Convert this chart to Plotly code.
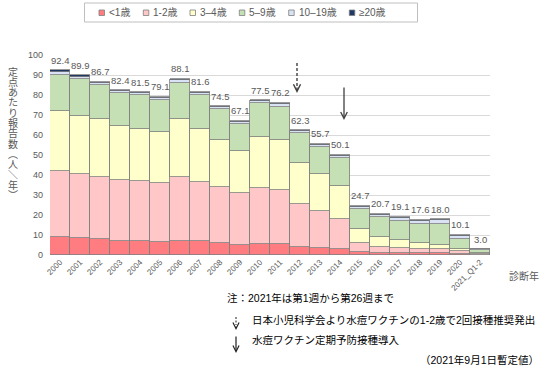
import plotly.graph_objects as go

years = ["2000", "2001", "2002", "2003", "2004", "2005", "2006", "2007", "2008", "2009",
         "2010", "2011", "2012", "2013", "2014", "2015", "2016", "2017", "2018", "2019",
         "2020", "2021_Q1-2"]
age_lt1 = [8.8, 8.3, 7.8, 7.2, 6.8, 6.5, 6.8, 6.8, 5.8, 5.2, 5.5, 5.5, 4.2, 3.5, 2.8, 1.5, 1.2, 1.2, 1.0, 0.9, 0.6, 0.2]
age_1_2 = [33.0, 32.2, 31.4, 30.3, 30.0, 29.3, 32.0, 29.7, 28.0, 25.6, 28.0, 27.0, 21.3, 18.7, 15.0, 4.7, 2.6, 2.3, 2.2, 1.9, 1.6, 0.4]
age_3_4 = [30.0, 29.0, 28.6, 27.0, 26.4, 25.7, 29.0, 26.3, 23.7, 21.4, 25.3, 25.0, 20.3, 18.3, 16.5, 6.6, 5.4, 4.0, 2.6, 2.4, 1.0, 0.3]
age_5_9 = [18.4, 18.3, 17.0, 16.3, 16.6, 16.0, 18.4, 17.0, 15.3, 13.3, 17.0, 16.7, 15.0, 13.7, 14.2, 10.0, 10.0, 9.7, 9.7, 10.3, 5.0, 1.6]
age_10_19 = [1.4, 1.3, 1.2, 1.0, 1.1, 1.0, 1.2, 1.1, 1.1, 1.0, 1.1, 1.3, 1.0, 1.0, 1.0, 1.3, 1.0, 1.3, 1.6, 2.0, 1.4, 0.3]
age_ge20 = [0.8, 0.8, 0.7, 0.6, 0.6, 0.6, 0.7, 0.7, 0.6, 0.6, 0.6, 0.7, 0.5, 0.5, 0.6, 0.6, 0.5, 0.6, 0.5, 0.5, 0.5, 0.2]
totals = [92.4, 89.9, 86.7, 82.4, 81.5, 79.1, 88.1, 81.6, 74.5, 67.1, 77.5, 76.2, 62.3, 55.7, 50.1,
          24.7, 20.7, 19.1, 17.6, 18.0, 10.1, 3.0]

series_names = ["<1歳", "1-2歳", "3–4歳", "5–9歳", "10–19歳", "≥20歳"]
series_values = [age_lt1, age_1_2, age_3_4, age_5_9, age_10_19, age_ge20]
series_colors = ["#FF7C80", "#FFC7C7", "#FFFFCC", "#C5E0B4", "#DAE3F3", "#1F3864"]

FONT = "Liberation Sans, Arial, Noto Sans CJK JP, sans-serif"
CJK = "Noto Sans CJK JP, sans-serif"
GRAY = "#595959"

# plot area in pixels: x 50..490, y 55..255
L, R, T, B = 50, 60, 55, 120
PW, PH = 550 - L - R, 375 - T - B


def px(x):
    return (x - L) / PW


def py(y):
    return (375 - B - y) / PH


fig = go.Figure()
for name, vals, col in zip(series_names, series_values, series_colors):
    fig.add_trace(go.Bar(x=years, y=vals, name=name, marker_color=col,
                         marker_line_color="#7F7F7F", marker_line_width=0.8,
                         showlegend=False, hoverinfo="skip"))

annotations = []
# value labels (category index positions on the category axis)
for i, t in enumerate(totals):
    annotations.append(dict(x=i, y=t, xref="x", yref="y", text=f"{t:.1f}", showarrow=False,
                            yshift=10, font=dict(size=9.5, color=GRAY, family=FONT)))

shapes = []
# manual legend
shapes.append(dict(type="rect", xref="paper", yref="paper", x0=px(84.5), x1=px(417.5),
                   y0=py(22), y1=py(3), line=dict(color="#BFBFBF", width=1), fillcolor="white"))
leg_sq_x = [99, 143.3, 190, 239.3, 288.7, 349.3]
for sx, name, col in zip(leg_sq_x, series_names, series_colors):
    shapes.append(dict(type="rect", xref="paper", yref="paper", x0=px(sx), x1=px(sx + 5.5),
                       y0=py(15.5), y1=py(10), line=dict(color="#7F7F7F", width=0.8), fillcolor=col))
    annotations.append(dict(xref="paper", yref="paper", x=px(sx + 8), y=py(12.8), text=name,
                            showarrow=False, xanchor="left", yanchor="middle",
                            font=dict(size=10, color=GRAY, family=FONT)))

# y-axis title (vertical, upright characters)
ytitle_chars = ["定", "点", "あ", "た", "り", "報", "告", "数", "︵", "人", "＼", "年", "︶"]
for i, ch in enumerate(ytitle_chars):
    annotations.append(dict(xref="paper", yref="paper", x=px(13), y=py(71 + i * 10.3), text=ch,
                            showarrow=False, xanchor="center", yanchor="middle",
                            font=dict(size=10, color=GRAY, family=CJK)))

# x-axis title
annotations.append(dict(xref="paper", yref="paper", x=px(524), y=py(276), text="診断年",
                        showarrow=False, xanchor="center", yanchor="middle",
                        font=dict(size=10, color=GRAY, family=FONT)))

# big arrows in chart
shapes.append(dict(type="line", xref="paper", yref="paper", x0=px(297), x1=px(297),
                   y0=py(63), y1=py(88), line=dict(color="#404040", width=1.4, dash="3px,2px")))
annotations.append(dict(xref="paper", yref="paper", x=px(297), y=py(93), ax=0, ay=-7,
                        text="", showarrow=True, arrowhead=5, arrowsize=1, arrowwidth=1.4,
                        arrowcolor="#404040", standoff=0))
annotations.append(dict(xref="paper", yref="paper", x=px(344), y=py(120), ax=0, ay=-34,
                        text="", showarrow=True, arrowhead=5, arrowsize=1, arrowwidth=1.3,
                        arrowcolor="#404040", standoff=0))

# notes
NFONT = dict(size=10.5, color="#000000", family=FONT)
annotations.append(dict(xref="paper", yref="paper", x=px(225), y=py(298),
                        text="注：2021年は第1週から第26週まで", showarrow=False,
                        xanchor="left", yanchor="middle", font=NFONT))
annotations.append(dict(xref="paper", yref="paper", x=px(250), y=py(320),
                        text="日本小児科学会より水痘ワクチンの1-2歳で2回接種推奨発出", showarrow=False,
                        xanchor="left", yanchor="middle", font=NFONT))
annotations.append(dict(xref="paper", yref="paper", x=px(250), y=py(340),
                        text="水痘ワクチン定期予防接種導入", showarrow=False,
                        xanchor="left", yanchor="middle", font=NFONT))
annotations.append(dict(xref="paper", yref="paper", x=px(541), y=py(360),
                        text="（2021年9月1日暫定値）", showarrow=False,
                        xanchor="right", yanchor="middle", font=NFONT))
# small arrows in notes
shapes.append(dict(type="line", xref="paper", yref="paper", x0=px(236), x1=px(236),
                   y0=py(317), y1=py(325), line=dict(color="#202020", width=1, dash="2px,1.5px")))
annotations.append(dict(xref="paper", yref="paper", x=px(236), y=py(330), ax=0, ay=-5,
                        text="", showarrow=True, arrowhead=5, arrowsize=1, arrowwidth=1.2,
                        arrowcolor="#202020", standoff=0))
annotations.append(dict(xref="paper", yref="paper", x=px(236), y=py(353), ax=0, ay=-18,
                        text="", showarrow=True, arrowhead=5, arrowsize=1, arrowwidth=1.2,
                        arrowcolor="#202020", standoff=0))

fig.update_layout(
    width=550, height=375,
    margin=dict(l=L, r=R, t=T, b=B),
    barmode="stack", bargap=0,
    plot_bgcolor="white", paper_bgcolor="white",
    font=dict(family=FONT, color=GRAY),
    annotations=annotations, shapes=shapes,
    hovermode=False,
    xaxis=dict(type="category", range=[-0.5, len(years) - 0.5], autorange=False,
               tickangle=-45, tickfont=dict(size=8, color=GRAY),
               showgrid=False, ticks="", showline=False),
    yaxis=dict(range=[0, 100], autorange=False, dtick=10, tickfont=dict(size=9, color=GRAY),
               gridcolor="#D9D9D9", gridwidth=1, zeroline=False, showline=False,
               ticks="", ticklabelstandoff=6),
)

fig.write_html("out.html", config={"displayModeBar": False},
               post_script="document.body.style.margin='0px';")
